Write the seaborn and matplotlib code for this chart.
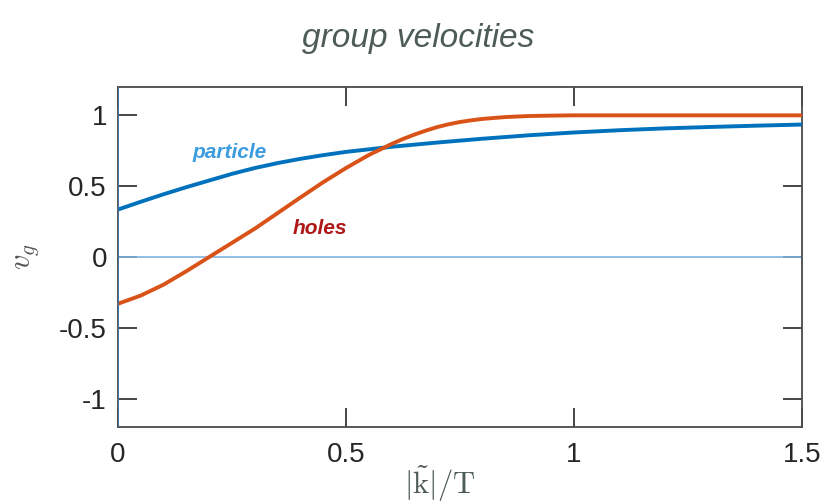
import numpy as np
import pandas as pd
import matplotlib
matplotlib.use('Agg')
import matplotlib.pyplot as plt
import seaborn as sns

# values
k_particle = [0.00, 0.05, 0.10, 0.15, 0.20, 0.25, 0.30, 0.35, 0.40, 0.45, 0.50,
              0.60, 0.70, 0.80, 0.90, 1.00, 1.10, 1.20, 1.30, 1.40, 1.50]
v_particle = [0.335, 0.39, 0.443, 0.493, 0.54, 0.587, 0.628, 0.663, 0.693, 0.719, 0.742,
              0.778, 0.808, 0.835, 0.859, 0.879, 0.895, 0.908, 0.918, 0.927, 0.935]

k_hole = [0.00, 0.05, 0.10, 0.15, 0.20, 0.25, 0.30, 0.35, 0.40, 0.45, 0.50,
          0.55, 0.60, 0.625, 0.65, 0.675, 0.70, 0.725, 0.75, 0.775, 0.80,
          0.85, 0.90, 0.95, 1.00, 1.20, 1.50]
v_hole = [-0.33, -0.272, -0.195, -0.10, 0.00, 0.10, 0.20, 0.31, 0.42, 0.528, 0.628,
          0.72, 0.798, 0.833, 0.864, 0.892, 0.917, 0.937, 0.953, 0.965, 0.975,
          0.988, 0.995, 0.998, 1.0, 1.0, 1.0]

x_ticks = [0, 0.5, 1, 1.5]
x_tick_labels = ['0', '0.5', '1', '1.5']
y_ticks = [-1, -0.5, 0, 0.5, 1]
y_tick_labels = ['-1', '-0.5', '0', '0.5', '1']

df = pd.concat([
    pd.DataFrame({'k': k_particle, 'v': v_particle, 'branch': 'particle'}),
    pd.DataFrame({'k': k_hole, 'v': v_hole, 'branch': 'holes'}),
])

sns.set_theme(style='white')
plt.rcParams['font.family'] = ['Liberation Sans', 'DejaVu Sans']
plt.rcParams['axes.unicode_minus'] = False
plt.rcParams['mathtext.fontset'] = 'cm'

dark = '#262626'
ink = '#4d5b59'

fig = plt.figure(figsize=(8.29, 5.04), dpi=100)
ax = fig.add_axes([118 / 829, 77 / 504, 684 / 829, 340 / 504])

ax.axhline(0, color='#80b4e0', lw=1.2, zorder=1)
sns.lineplot(data=df, x='k', y='v', hue='branch',
             palette={'particle': '#0072BD', 'holes': '#D95319'},
             lw=2.8, legend=False, ax=ax, zorder=3)
ax.axvline(0, color='#3f78a8', lw=1.3, zorder=4)

ax.set_xlim(0, 1.5)
ax.set_ylim(-1.2, 1.2)
ax.set_xticks(x_ticks)
ax.set_xticklabels(x_tick_labels)
ax.set_yticks(y_ticks)
ax.set_yticklabels(y_tick_labels)
ax.tick_params(direction='in', length=14, width=1.2, color=dark,
               labelsize=20, labelcolor=dark,
               top=True, right=True, bottom=True, left=True)
ax.tick_params(axis='x', pad=11)
ax.tick_params(axis='y', pad=8)
for s in ax.spines.values():
    s.set_color('#4a4a4a')
    s.set_linewidth(1.3)

ax.set_xlabel('')
ax.set_ylabel('$v_g$', fontsize=22, color='#555555', rotation=90)
ax.yaxis.set_label_coords(-0.112, 0.5)

# hand-written annotations
fig.text(418 / 829, 1 - 38 / 504, 'group velocities', ha='center', va='center',
         fontsize=24, color=ink, style='italic')
ax.text(0.245, 0.74, 'particle', ha='center', va='center', fontsize=15,
        color='#3c9ce0', style='italic', weight='bold')
ax.text(0.443, 0.2, 'holes', ha='center', va='center', fontsize=15,
        color='#b01818', style='italic', weight='bold')
fig.text(440 / 829, 1 - 484 / 504, r'$|\tilde{\mathrm{k}}|/\mathrm{T}$',
         ha='center', va='center', fontsize=22, color=ink)

fig.savefig('out.png', dpi=100)
